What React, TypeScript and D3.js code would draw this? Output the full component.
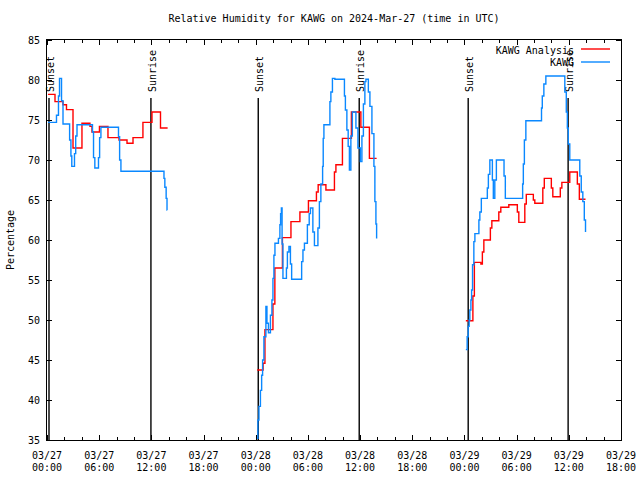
import React from "react";
import * as d3 from "d3";

// hours after 2024-03-27 00:00 UTC, relative humidity (%)
const analysisDay1: [number, number][] = [
  [0.11, 78.2], [0.92, 77.3], [1.84, 76.9], [2.24, 76.3], [2.99, 71.5], [4.02, 74.6],
  [4.94, 74.2], [5.17, 73.5], [6.03, 74.2], [7.01, 72.8], [8.28, 72.5], [9.2, 72.1],
  [9.89, 72.8], [11.03, 74.7], [12.07, 76.0], [13.05, 74.0], [13.87, 74.0],
];
const analysisDay2: [number, number][] = [
  [24.17, 43.75], [24.85, 44.6], [25.06, 48.8], [25.98, 52], [26.2, 56.5], [27.07, 60.3],
  [28.05, 62.3], [29.08, 63.5], [30.06, 64.9], [30.98, 66.0], [31.18, 66.9], [32.07, 66.25],
  [33.05, 68.5], [33.22, 69.4], [33.97, 72.7], [35.0, 76.0], [36.09, 74.1], [37.07, 70.2],
  [37.9, 70.2],
];
const analysisDay3: [number, number][] = [
  [48.16, 49.9], [48.97, 53], [49.14, 57.2], [49.89, 57.0], [50.06, 58.5], [50.23, 60.0],
  [50.98, 61.5], [51.15, 62.4], [51.95, 63.5], [52.18, 64.1], [53.1, 64.4], [54.08, 63.5],
  [54.25, 62.2], [54.94, 64.5], [55.11, 65.7], [55.92, 65.0], [56.09, 64.6], [57.01, 66.5],
  [57.18, 67.7], [57.99, 66.5], [58.16, 65.4], [59.02, 66.5], [59.2, 67.2], [60.11, 68.5],
  [60.98, 67], [61.21, 65.1], [61.92, 65.1],
];

const obsDay1: [number, number][] = [
  [0.11, 74.7], [1.09, 75.6], [1.32, 78], [1.44, 80.2], [1.67, 77.4], [1.84, 74.5],
  [2.6, 72.5], [2.75, 70.5], [2.85, 69.2], [3.16, 70.8], [3.3, 73.0], [3.45, 74.4],
  [5.23, 73.5], [5.35, 70.3], [5.5, 69.0], [5.92, 70.3], [6.05, 72.8], [6.2, 74.1],
  [8.22, 72.9], [8.35, 70], [8.5, 68.6], [13.45, 67.7], [13.55, 66.6], [13.7, 65.2],
  [13.8, 63.75], [13.83, 63.75],
];
const obsDay2: [number, number][] = [
  [24.14, 35.2], [24.25, 37.5], [24.37, 39.2], [24.54, 41.2], [24.68, 43.1], [24.79, 45.0],
  [24.94, 47.9], [25.17, 51.7], [25.29, 49.6], [25.46, 48.4], [25.69, 50.6], [25.86, 52.5],
  [25.98, 55.2], [26.09, 58.1], [26.21, 59.6], [26.61, 60.2], [26.78, 61.9], [26.86, 63.3],
  [26.95, 64.0], [27.03, 59.5], [27.13, 55.2], [27.53, 56.5], [27.64, 58.5], [27.82, 59.2],
  [27.99, 57], [28.13, 55.1], [29.28, 57.3], [29.43, 58.75], [29.6, 59.6], [29.94, 61.9],
  [30.15, 63.3], [30.29, 64.0], [30.57, 61], [30.75, 59.3], [31.15, 61.5], [31.32, 64.8],
  [31.49, 67], [31.69, 69.2], [31.76, 72.7], [31.84, 74.4], [32.53, 77.3], [32.64, 78.5],
  [32.82, 80.2], [33.1, 80.1], [34.2, 78], [34.31, 76.25], [34.48, 73.75], [34.63, 71.7],
  [34.77, 68.75], [34.94, 73], [35.11, 76], [35.52, 74], [35.75, 71.5], [36.03, 69.8],
  [36.21, 73], [36.38, 77], [36.55, 79.8], [36.67, 80.1], [36.95, 78.5], [37.13, 76.7],
  [37.36, 73.3], [37.59, 69.2], [37.7, 64.8], [37.82, 62], [37.9, 60.2],
];
const obsDay3: [number, number][] = [
  [48.16, 46.3], [48.31, 47.9], [48.43, 49.2], [48.54, 50], [48.62, 51.25], [48.74, 52.5],
  [48.82, 53.75], [48.93, 56.9], [49.08, 59.8], [49.2, 60.8], [49.66, 62.5], [49.77, 63.5],
  [49.94, 65.2], [50.63, 66.5], [50.75, 68.2], [50.92, 70.0], [51.21, 67.5], [51.32, 65.2],
  [51.49, 67.5], [51.67, 70.0], [52.55, 68], [52.7, 65.2], [54.69, 67], [54.77, 69.5],
  [54.89, 72.5], [55.06, 74.9], [56.86, 76.5], [56.95, 78], [57.13, 79.5], [57.36, 80.5],
  [59.54, 78.5], [59.71, 76], [59.83, 74], [59.94, 72], [60.11, 70.0], [61.26, 68],
  [61.43, 66], [61.61, 64.8], [61.78, 62.5], [61.92, 61],
];

const sunsets = [0.23, 24.29, 48.43];
const sunrises = [11.95, 35.9, 59.92];
const yTicks = [35, 40, 45, 50, 55, 60, 65, 70, 75, 80, 85];

const START = Date.UTC(2024, 2, 27, 0, 0);
const toDate = (h: number) => new Date(START + h * 3600e3);

const W = 640, H = 480;
const L = 47, R = 621, T = 40, B = 440;
const FONT = "'DejaVu Sans Mono', 'Liberation Mono', monospace";
const RED = "#ff0000";
const BLUE = "#0a88ff";

export default function App() {
  const x = d3.scaleUtc().domain([toDate(0), toDate(66)]).range([L, R]);
  const y = d3.scaleLinear().domain([35, 85]).range([B, T]);
  const line = d3
    .line<[number, number]>()
    .x((d) => x(toDate(d[0])))
    .y((d) => y(d[1]))
    .curve(d3.curveStepAfter);

  const majors = x.ticks(d3.utcHour.every(6)!);
  const minors = x.ticks(d3.utcHour.every(2)!).filter((d) => d.getUTCHours() % 6 !== 0);
  const fmtDay = d3.utcFormat("%m/%d");
  const fmtHour = d3.utcFormat("%H:%M");

  const events = [
    ...sunsets.map((h) => ({ h, label: "Sunset" })),
    ...sunrises.map((h) => ({ h, label: "Sunrise" })),
  ];

  return (
    <svg width={W} height={H} style={{ display: "block", position: "absolute", left: 0, top: 0 }} fontFamily={FONT} fontSize={10}>
      <rect x={0} y={0} width={W} height={H} fill="#fff" />
      <text x={(L + R) / 2} y={22} textAnchor="middle">
        Relative Humidity for KAWG on 2024-Mar-27 (time in UTC)
      </text>
      <text transform={`translate(14,${(T + B) / 2}) rotate(-90)`} textAnchor="middle">
        Percentage
      </text>

      {/* y ticks */}
      {yTicks.map((v) => (
        <g key={v} shapeRendering="crispEdges">
          <line x1={L} x2={L + 5} y1={Math.round(y(v)) + 0.5} y2={Math.round(y(v)) + 0.5} stroke="#000" />
          <line x1={R - 5} x2={R} y1={Math.round(y(v)) + 0.5} y2={Math.round(y(v)) + 0.5} stroke="#000" />
          <text x={40} y={y(v) + 3.5} textAnchor="end" shapeRendering="auto">
            {v}
          </text>
        </g>
      ))}

      {/* x ticks */}
      {majors.map((d, i) => {
        const px = Math.round(x(d)) + 0.5;
        return (
          <g key={"M" + i}>
            <line x1={px} x2={px} y1={B} y2={B - 5} stroke="#000" shapeRendering="crispEdges" />
            <line x1={px} x2={px} y1={T} y2={T + 5} stroke="#000" shapeRendering="crispEdges" />
            <text x={x(d)} y={458.5} textAnchor="middle">{fmtDay(d)}</text>
            <text x={x(d)} y={471} textAnchor="middle">{fmtHour(d)}</text>
          </g>
        );
      })}
      {minors.map((d, i) => {
        const px = Math.round(x(d)) + 0.5;
        return (
          <g key={"m" + i} shapeRendering="crispEdges">
            <line x1={px} x2={px} y1={B} y2={B - 3} stroke="#000" />
            <line x1={px} x2={px} y1={T} y2={T + 3} stroke="#000" />
          </g>
        );
      })}

      {/* sunrise / sunset markers */}
      {events.map((e, i) => {
        const px = x(toDate(e.h));
        return (
          <g key={"e" + i}>
            <line x1={px} x2={px} y1={B} y2={T + 58} stroke="#000" strokeWidth={1.4} />
            <text transform={`translate(${px + 5},92) rotate(-90)`} textAnchor="start">
              {e.label}
            </text>
          </g>
        );
      })}

      {/* data */}
      {[analysisDay1, analysisDay2, analysisDay3].map((s, i) => (
        <path key={"a" + i} d={line(s) || ""} fill="none" stroke={RED} strokeWidth={1.4} />
      ))}
      {[obsDay1, obsDay2, obsDay3].map((s, i) => (
        <path key={"o" + i} d={line(s) || ""} fill="none" stroke={BLUE} strokeWidth={1.4} />
      ))}

      {/* legend */}
      <text x={574} y={54} textAnchor="end">KAWG Analysis</text>
      <line x1={581} x2={610} y1={49} y2={49} stroke={RED} strokeWidth={1.4} />
      <text x={574} y={66} textAnchor="end">KAWG</text>
      <line x1={581} x2={610} y1={62} y2={62} stroke={BLUE} strokeWidth={1.4} />

      <rect x={L - 0.5} y={T - 0.5} width={R - L + 1} height={B - T + 1} fill="none" stroke="#000" shapeRendering="crispEdges" />
    </svg>
  );
}
